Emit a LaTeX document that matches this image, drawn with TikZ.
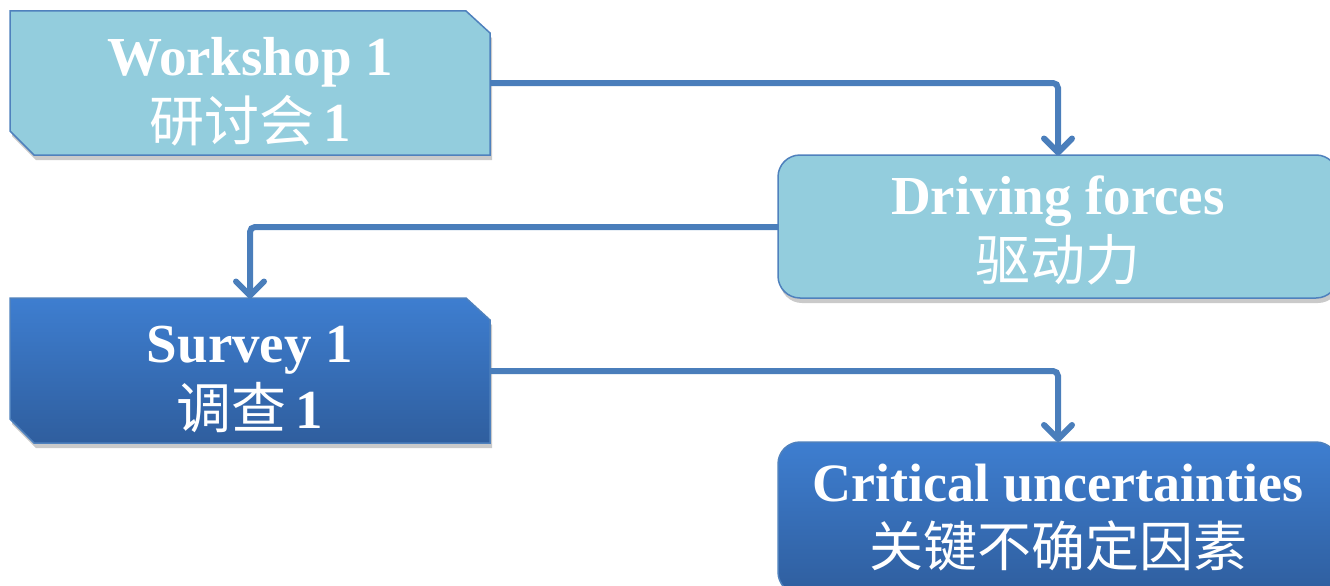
\documentclass[tikz,border=0pt]{standalone}
\usepackage{fontspec}
\setmainfont{Liberation Serif}
\newfontfamily\cjk{Noto Sans CJK SC}
\usetikzlibrary{arrows.meta,shadows}
\definecolor{lightfill}{HTML}{93CDDD}
\definecolor{edgeblue}{HTML}{4F81BD}
\definecolor{darktop}{HTML}{3E7ED0}
\definecolor{darkbot}{HTML}{2F5E9E}
\definecolor{linkblue}{HTML}{4A7EBB}
\tikzset{
  boxshadow/.style={drop shadow={shadow xshift=2pt,shadow yshift=-5pt,opacity=0.35,fill=black!60}},
  lightbox/.style={fill=lightfill,draw=edgeblue,line width=1.5pt,boxshadow},
  darkbox/.style={top color=darktop,bottom color=darkbot,draw=edgeblue,line width=1.5pt,boxshadow},
  anchorbox/.style={inner sep=0pt,outer sep=0pt},
  label/.style={text=white,align=center,inner sep=0pt,font=\fontsize{55}{66}\selectfont},
  link/.style={draw=linkblue,line width=6pt,rounded corners=5pt,-{Straight Barb[width=28pt,length=14pt,line width=6pt,round]}},
}
\begin{document}
\begin{tikzpicture}[x=1pt,y=-1pt]
\useasboundingbox (0,0) rectangle (1330,586);
% snipped boxes
\path[lightbox] (10,11) -- (466,11) -- (490,33) -- (490,155) -- (34,155) -- (10,131) -- cycle;
\path[darkbox] (10,298) -- (466,298) -- (490,320) -- (490,443) -- (34,443) -- (10,419) -- cycle;
% rounded boxes
\path[lightbox,rounded corners=22pt] (778,155) rectangle (1338,298);
\path[darkbox,rounded corners=22pt] (778,442) rectangle (1338,594);
% named box areas (for connectors)
\node[anchorbox,minimum width=480pt,minimum height=144pt] (w) at (250,83) {};
\node[anchorbox,minimum width=560pt,minimum height=143pt] (d) at (1058,227) {};
\node[anchorbox,minimum width=480pt,minimum height=145pt] (s) at (250,371) {};
\node[anchorbox,minimum width=560pt,minimum height=152pt] (c) at (1058,518) {};
% texts
\node[label] (wt) at (250,92) {\bfseries Workshop 1\\{\cjk 研讨会}\,\bfseries 1};
\node[label] (dt) at (1058,230) {\bfseries Driving forces\\{\cjk 驱动力}};
\node[label] (st) at (250,379) {\bfseries Survey 1\\{\cjk 调查}\,\bfseries 1};
\node[label,font=\fontsize{54}{65}\selectfont] (ct) at (1058,518) {\bfseries Critical uncertainties\\{\cjk 关键不确定因素}};
% connectors
\draw[link] (w.east) -| (d.north);
\draw[link] (d.west) -| (s.north);
\draw[link] (s.east) -| (c.north);
\end{tikzpicture}
\end{document}
